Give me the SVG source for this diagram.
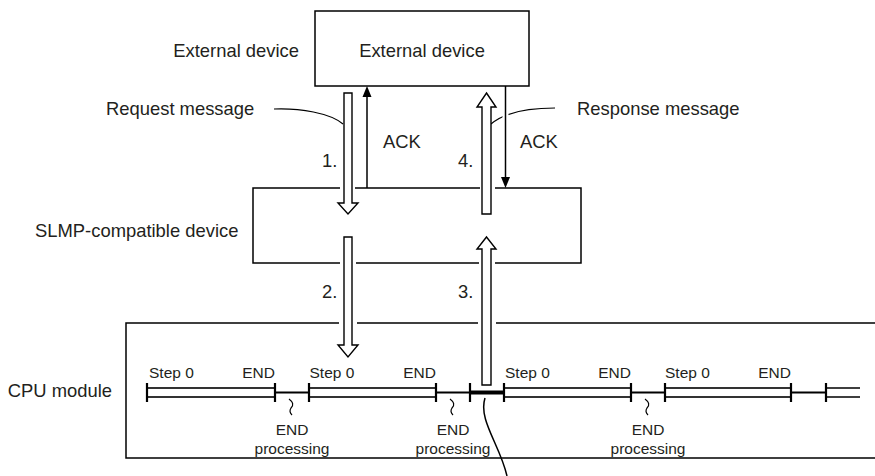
<svg xmlns="http://www.w3.org/2000/svg" width="875" height="476" viewBox="0 0 875 476">
<style>
text{font-family:"Liberation Sans",Arial,sans-serif;fill:#231f20}
.L{font-size:18.4px}
.S{font-size:15.5px}
.box{fill:none;stroke:#000;stroke-width:1.5}
.gap{fill:#fff;stroke:none}
.hollow{fill:#fff;stroke:#000;stroke-width:1.4;stroke-linejoin:miter}
.ln{fill:none;stroke:#000;stroke-width:1.5}
.tl{fill:none;stroke:#000;stroke-width:2}
.tick{stroke:#000;stroke-width:2.2}
.bar{fill:#fff;stroke:#000;stroke-width:1.6}
.thin{fill:none;stroke:#000;stroke-width:1.2}
</style>
<g id="external-device">
  <rect class="box" x="315" y="11" width="214" height="75"/>
  <text class="L" x="422" y="57" text-anchor="middle">External device</text>
</g>
<g id="slmp-device">
  <rect class="box" x="253" y="188" width="328" height="75"/>
  <rect class="gap" x="340" y="185" width="15" height="6"/>
  <rect class="gap" x="480" y="185" width="15" height="6"/>
  <rect class="gap" x="340" y="260" width="16" height="6"/>
  <rect class="gap" x="479" y="260" width="16" height="6"/>
</g>
<g id="cpu-module">
  <path class="box" d="M875,323 H126 V458 H875"/>
  <rect class="gap" x="339" y="320" width="18" height="6"/>
  <rect class="gap" x="478" y="320" width="18" height="6"/>
  <g id="timeline">
    <line class="tl" x1="275" y1="392.5" x2="309" y2="392.5"/>
    <line class="tl" x1="436" y1="392.5" x2="470" y2="392.5"/>
    <line stroke="#000" stroke-width="4" x1="470" y1="392.5" x2="504" y2="392.5"/>
    <line class="tl" x1="631" y1="392.5" x2="665" y2="392.5"/>
    <line class="tl" x1="791" y1="392.5" x2="826" y2="392.5"/>
    <rect class="bar" x="147" y="388" width="128" height="9"/>
    <rect class="bar" x="309" y="388" width="127" height="9"/>
    <rect class="bar" x="504" y="388" width="127" height="9"/>
    <rect class="bar" x="665" y="388" width="126" height="9"/>
    <path class="ln" d="M826,388 H860 M826,397 H860" stroke-width="2"/>
    <path class="tick" d="M147,383 V402 M275,383 V402 M309,383 V402 M436,383 V402 M470,383 V402 M504,383 V402 M631,383 V402 M665,383 V402 M791,383 V402 M826,383 V402"/>
    <path class="thin" d="M289,399 C293,402 294,405 291,408 C289,411 290,413 292,415"/>
    <path class="thin" d="M450,399 C454,402 455,405 452,408 C450,411 451,413 453,415"/>
    <path class="thin" d="M645,399 C649,402 650,405 647,408 C645,411 646,413 648,415"/>
    <path class="ln" d="M485,398 C478,420 500,445 507,476"/>
  </g>
  <text class="S" x="149" y="378">Step 0</text>
  <text class="S" x="275" y="378" text-anchor="end">END</text>
  <text class="S" x="309.5" y="378">Step 0</text>
  <text class="S" x="436" y="378" text-anchor="end">END</text>
  <text class="S" x="505" y="378">Step 0</text>
  <text class="S" x="631" y="378" text-anchor="end">END</text>
  <text class="S" x="665" y="378">Step 0</text>
  <text class="S" x="791" y="378" text-anchor="end">END</text>
  <text class="S" x="292" y="435" text-anchor="middle">END</text>
  <text class="S" x="292" y="454" text-anchor="middle">processing</text>
  <text class="S" x="453" y="435" text-anchor="middle">END</text>
  <text class="S" x="453" y="454" text-anchor="middle">processing</text>
  <text class="S" x="648" y="435" text-anchor="middle">END</text>
  <text class="S" x="648" y="454" text-anchor="middle">processing</text>
</g>
<g id="labels">
  <text class="L" x="299" y="57" text-anchor="end">External device</text>
  <text class="L" x="106" y="115">Request message</text>
  <text class="L" x="577" y="115">Response message</text>
  <text class="L" x="35" y="237">SLMP-compatible device</text>
  <text class="L" x="112" y="397" text-anchor="end">CPU module</text>
</g>
<g id="connectors">
  <path class="thin" d="M274,109 C300,108 330,113 343,124"/>
  <path class="thin" d="M555,108 C530,108 505,112 491,124"/>
  <line stroke="#fff" stroke-width="6" x1="505.5" y1="100" x2="505.5" y2="130"/>
  <polygon class="hollow" points="344,93 352,93 352,203 358,203 348,214 338,203 344,203"/>
  <polygon class="hollow" points="486.5,93 496,107 491,107 491,214 482,214 482,107 477,107"/>
  <polygon class="hollow" points="344,237 352,237 352,345 358,345 348,357 338,345 344,345"/>
  <polygon class="hollow" points="486.5,237 496,249 491,249 491,385 482,385 482,249 477,249"/>
  <line class="ln" x1="367" y1="188" x2="367" y2="96"/>
  <polygon points="367,86 371.5,97 362.5,97" fill="#000"/>
  <line class="ln" x1="505.5" y1="86" x2="505.5" y2="178"/>
  <polygon points="501,177 510,177 505.5,188" fill="#000"/>
  <text class="L" x="383" y="148">ACK</text>
  <text class="L" x="520" y="148">ACK</text>
  <text class="L" x="322" y="167">1.</text>
  <text class="L" x="458" y="167">4.</text>
  <text class="L" x="322" y="298">2.</text>
  <text class="L" x="458" y="298">3.</text>
</g>
</svg>
